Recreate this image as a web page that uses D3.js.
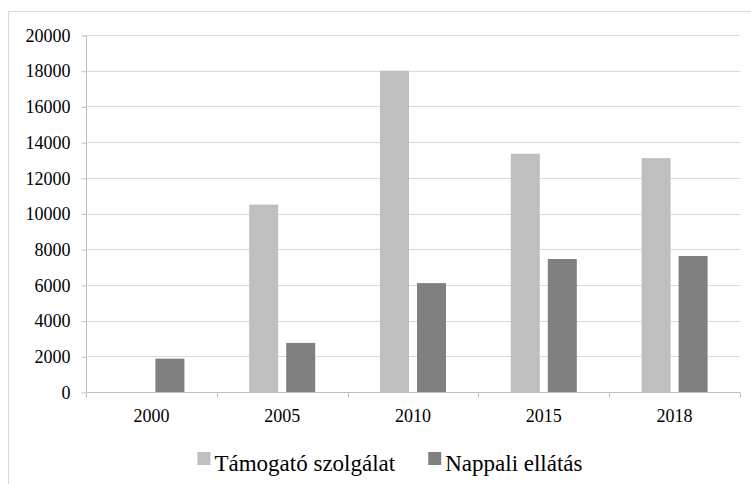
<!DOCTYPE html>
<html>
<head>
<meta charset="utf-8">
<script src="https://cdn.jsdelivr.net/npm/d3@7"></script>
<style>
  body { margin: 0; background: #fff; }
</style>
</head>
<body>
<div id="chart"></div>
<script>
// data
var years = ["2000", "2005", "2010", "2015", "2018"];
var seriesNames = ["Támogató szolgálat", "Nappali ellátás"];
var tamogato = [0, 10500, 18000, 13350, 13100];
var nappali = [1870, 2750, 6100, 7450, 7620];
var yTicks = [0, 2000, 4000, 6000, 8000, 10000, 12000, 14000, 16000, 18000, 20000];
var colors = ["#bfbfbf", "#808080"];

var font = "'Liberation Serif', 'Times New Roman', serif";
var width = 751, height = 484;
var plot = {left: 86, right: 740, top: 35, bottom: 392};

var svg = d3.select("#chart").append("svg")
    .attr("width", width)
    .attr("height", height)
    .attr("font-family", font);

// chart frame
svg.append("rect")
    .attr("x", 8.5).attr("y", 11.5)
    .attr("width", 800).attr("height", 600)
    .attr("fill", "#fff")
    .attr("stroke", "#d9d9d9");

var x0 = d3.scaleBand()
    .domain(years)
    .range([plot.left, plot.right]);

var x1 = d3.scaleBand()
    .domain(seriesNames)
    .range([0, x0.bandwidth()])
    .paddingInner(0.216)
    .paddingOuter(0.875);

var y = d3.scaleLinear()
    .domain([0, 20000])
    .range([plot.bottom, plot.top]);

// gridlines
svg.append("g").selectAll("line")
    .data(yTicks.slice(1))
    .enter().append("line")
    .attr("x1", plot.left).attr("x2", plot.right)
    .attr("y1", function(d) { return Math.round(y(d)) + 0.5; })
    .attr("y2", function(d) { return Math.round(y(d)) + 0.5; })
    .attr("stroke", "#d9d9d9");

// y axis
var yAxis = svg.append("g")
    .attr("transform", "translate(" + (plot.left + 0.5) + ",0.5)")
    .call(d3.axisLeft(y).tickValues(yTicks).tickSize(5).tickPadding(11).tickFormat(d3.format("d")));
yAxis.attr("font-family", font);
yAxis.select(".domain").attr("stroke", "#bfbfbf").attr("d", "M0," + plot.top + "V" + (plot.bottom + 5));
yAxis.selectAll(".tick line").attr("stroke", "#bfbfbf");
yAxis.selectAll(".tick text")
    .attr("font-size", 18)
    .attr("fill", "#000");

// bars
var rows = years.map(function(yr, i) {
    return {year: yr, values: [tamogato[i], nappali[i]]};
});

var groups = svg.append("g").selectAll("g")
    .data(rows)
    .enter().append("g")
    .attr("transform", function(d) { return "translate(" + x0(d.year) + ",0)"; });

groups.selectAll("rect")
    .data(function(d) {
        return d.values.map(function(v, j) { return {name: seriesNames[j], value: v, idx: j}; });
    })
    .enter().append("rect")
    .filter(function(d) { return d.value > 0; })
    .attr("x", function(d) { return x1(d.name); })
    .attr("width", x1.bandwidth())
    .attr("y", function(d) { return y(d.value); })
    .attr("height", function(d) { return y(0) - y(d.value); })
    .attr("fill", function(d) { return colors[d.idx]; });

// x axis
var xAxisG = svg.append("g")
    .attr("transform", "translate(0," + (Math.round(y(0)) + 0.5) + ")");
xAxisG.append("line")
    .attr("x1", plot.left).attr("x2", plot.right)
    .attr("stroke", "#bfbfbf");
var bounds = years.map(function(d) { return x0(d); }).concat([plot.right]);
xAxisG.selectAll("line.tk")
    .data(bounds)
    .enter().append("line")
    .attr("class", "tk")
    .attr("x1", function(d) { return Math.round(d) + 0.5; })
    .attr("x2", function(d) { return Math.round(d) + 0.5; })
    .attr("y1", 0).attr("y2", 5)
    .attr("stroke", "#bfbfbf");
xAxisG.selectAll("text")
    .data(years)
    .enter().append("text")
    .attr("x", function(d) { return x0(d) + x0.bandwidth() / 2; })
    .attr("y", 29)
    .attr("text-anchor", "middle")
    .attr("font-size", 18)
    .text(function(d) { return d; });

// legend
var legend = svg.append("g");
var cursor = 0;
seriesNames.forEach(function(name, i) {
    var item = legend.append("g").attr("transform", "translate(" + cursor + ",0)");
    item.append("rect")
        .attr("x", 0).attr("y", -19)
        .attr("width", 13).attr("height", 13)
        .attr("fill", colors[i]);
    var t = item.append("text")
        .attr("x", 17).attr("y", 0)
        .attr("font-size", 23)
        .text(name);
    cursor += 17 + t.node().getComputedTextLength() + 33;
});
var legendWidth = cursor - 33;
legend.attr("transform", "translate(" + (390 - legendWidth / 2) + ",471)");
</script>
</body>
</html>
